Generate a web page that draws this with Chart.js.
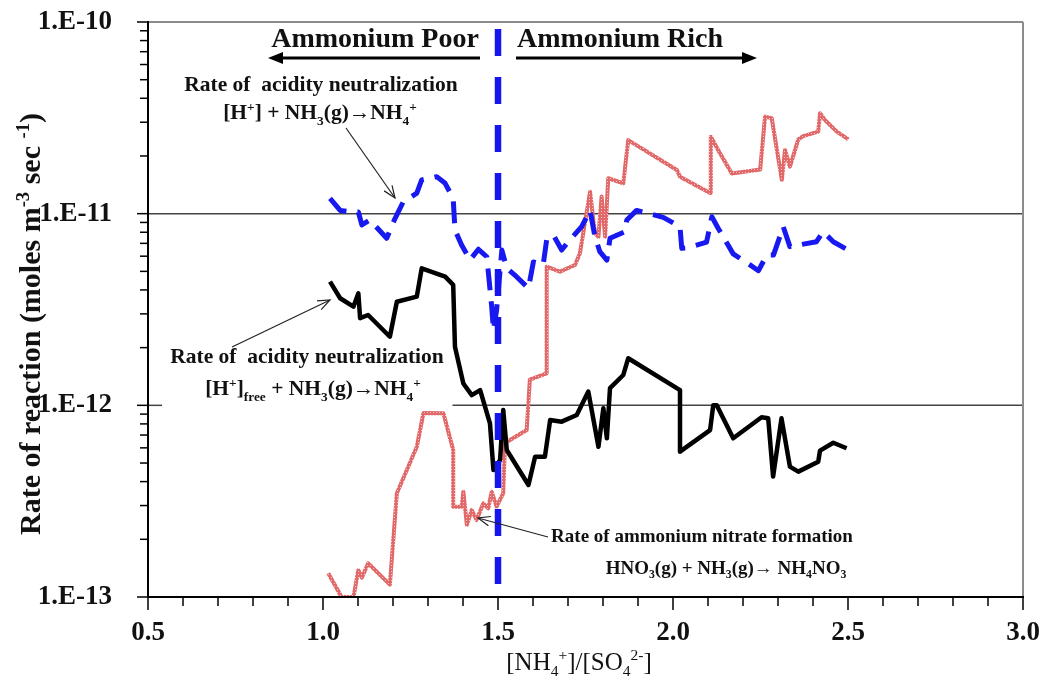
<!DOCTYPE html>
<html>
<head>
<meta charset="utf-8">
<script src="https://cdn.jsdelivr.net/npm/chart.js@4.4.1/dist/chart.umd.min.js"></script>
<style>
  body { margin: 0; background: #fff; }
  #wrap { position: relative; width: 1041px; height: 690px; }
  canvas { position: absolute; left: 0; top: 0; }
  .t { position: absolute; font-family: "Liberation Serif", serif; font-weight: bold; white-space: nowrap;
       transform: translate(-50%, -50%); color: #111; line-height: 1; }
  .t sup, .t sub { font-size: 62%; line-height: 0; }
</style>
</head>
<body>
<div id="wrap">
  <canvas id="myChart" width="1041" height="690"></canvas>
  <div class="t" style="left:375px;top:38px;font-size:28px">Ammonium Poor</div>
  <div class="t" style="left:620px;top:38px;font-size:28px">Ammonium Rich</div>
  <div class="t" style="left:321px;top:85px;font-size:21.5px">Rate of &nbsp;acidity neutralization</div>
  <div class="t" style="left:320px;top:113px;font-size:21.5px">[H<sup>+</sup>] + NH<sub>3</sub>(g)→NH<sub>4</sub><sup>+</sup></div>
  <div class="t" style="left:307px;top:357px;font-size:21.5px">Rate of &nbsp;acidity neutralization</div>
  <div class="t" style="left:313px;top:389px;font-size:21.5px">[H<sup>+</sup>]<sub>free</sub> + NH<sub>3</sub>(g)→NH<sub>4</sub><sup>+</sup></div>
  <div class="t" style="left:702px;top:535px;font-size:19px">Rate of ammonium nitrate formation</div>
  <div class="t" style="left:726px;top:567px;font-size:19px">HNO<sub>3</sub>(g) + NH<sub>3</sub>(g)→ NH<sub>4</sub>NO<sub>3</sub></div>
  <div class="t" style="left:30px;top:324px;font-size:30px;transform:translate(-50%,-50%) rotate(-90deg)">Rate of reaction (moles m<sup>-3</sup> sec <sup>-1</sup>)</div>
  <div class="t" style="left:579px;top:661px;font-size:25px;font-weight:normal">[NH<sub>4</sub><sup>+</sup>]/[SO<sub>4</sub><sup>2-</sup>]</div>
</div>
<script>
// acidity neutralization, [H+]free (black)
const blackX = [1.020, 1.049, 1.087, 1.101, 1.106, 1.129, 1.191, 1.211, 1.268, 1.282, 1.349, 1.372, 1.377, 1.401, 1.425,
  1.449, 1.477, 1.487, 1.506, 1.515, 1.525, 1.587, 1.606, 1.634, 1.649, 1.682, 1.725, 1.758, 1.787, 1.801, 1.811, 1.820,
  1.858, 1.872, 2.020, 2.020, 2.106, 2.115, 2.125, 2.172, 2.253, 2.272, 2.286, 2.310, 2.334, 2.358, 2.415, 2.420, 2.458, 2.496];
const blackY = [4.42e-12, 3.62e-12, 3.27e-12, 3.84e-12, 2.85e-12, 2.96e-12, 2.28e-12, 3.47e-12, 3.69e-12, 5.19e-12,
  4.69e-12, 4.25e-12, 2.02e-12, 1.30e-12, 1.13e-12, 1.20e-12, 8.05e-13, 4.60e-13, 5.19e-13, 9.46e-13, 5.85e-13, 3.84e-13,
  5.39e-13, 5.39e-13, 8.38e-13, 8.22e-13, 8.91e-13, 1.18e-12, 6.08e-13, 9.65e-13, 6.73e-13, 1.23e-12, 1.44e-12, 1.76e-12,
  1.20e-12, 5.73e-13, 7.43e-13, 1.00e-12, 1.00e-12, 6.73e-13, 8.67e-13, 8.56e-13, 4.25e-13, 8.56e-13, 4.79e-13, 4.51e-13,
  5.08e-13, 5.80e-13, 6.38e-13, 5.97e-13];

// ammonium nitrate formation (red)
const redX = [1.015, 1.053, 1.087, 1.101, 1.111, 1.129, 1.191, 1.211, 1.268, 1.287, 1.344, 1.372, 1.372, 1.396, 1.401,
  1.411, 1.425, 1.439, 1.458, 1.472, 1.482, 1.496, 1.515, 1.520, 1.582, 1.591, 1.639, 1.639, 1.677, 1.720, 1.734, 1.763,
  1.777, 1.787, 1.796, 1.806, 1.815, 1.858, 1.872, 2.011, 2.020, 2.106, 2.108, 2.129, 2.168, 2.249, 2.263, 2.282, 2.311,
  2.320, 2.334, 2.358, 2.372, 2.415, 2.420, 2.434, 2.468, 2.501];
const redY = [1.33e-13, 1.0e-13, 1.0e-13, 1.38e-13, 1.26e-13, 1.50e-13, 1.16e-13, 3.48e-13, 6.08e-13, 9.12e-13, 9.10e-13,
  5.85e-13, 2.96e-13, 2.96e-13, 3.54e-13, 2.38e-13, 2.84e-13, 2.52e-13, 3.08e-13, 2.90e-13, 3.54e-13, 2.96e-13, 3.48e-13,
  6.36e-13, 7.43e-13, 1.36e-12, 1.47e-12, 5.29e-12, 4.98e-12, 5.40e-12, 6.21e-12, 1.30e-11, 7.90e-12, 7.58e-12, 1.23e-11,
  7.58e-12, 1.53e-11, 1.44e-11, 2.42e-11, 1.69e-11, 1.56e-11, 1.28e-11, 2.52e-11, 2.15e-11, 1.62e-11, 1.70e-11, 3.21e-11,
  3.15e-11, 1.50e-11, 2.15e-11, 1.76e-11, 2.44e-11, 2.54e-11, 2.68e-11, 3.34e-11, 3.08e-11, 2.68e-11, 2.44e-11];

// acidity neutralization, [H+] (blue dashed)
const blueX = [1.020, 1.049, 1.087, 1.101, 1.111, 1.134, 1.182, 1.206, 1.229, 1.268, 1.282, 1.325, 1.349, 1.372, 1.377,
  1.396, 1.420, 1.444, 1.468, 1.482, 1.487, 1.496, 1.511, 1.525, 1.553, 1.587, 1.601, 1.629, 1.639, 1.658, 1.682, 1.701,
  1.739, 1.763, 1.777, 1.791, 1.811, 1.820, 1.863, 1.868, 1.896, 1.972, 2.020, 2.025, 2.039, 2.096, 2.111, 2.129, 2.172,
  2.220, 2.244, 2.268, 2.287, 2.315, 2.334, 2.410, 2.429, 2.458, 2.496];
const blueY = [1.20e-11, 1.04e-11, 1.02e-11, 1.02e-11, 8.73e-12, 9.27e-12, 7.44e-12, 9.46e-12, 1.15e-11, 1.28e-11,
  1.50e-11, 1.56e-11, 1.44e-11, 1.20e-11, 8.22e-12, 6.87e-12, 5.73e-12, 6.52e-12, 5.96e-12, 3.27e-12, 2.47e-12, 3.14e-12,
  6.46e-12, 5.19e-12, 4.69e-12, 4.08e-12, 5.60e-12, 5.40e-12, 7.29e-12, 7.74e-12, 6.46e-12, 7.14e-12, 8.55e-12, 1.04e-11,
  7.58e-12, 6.33e-12, 5.73e-12, 7.44e-12, 8.05e-12, 9.27e-12, 1.04e-11, 9.57e-12, 8.55e-12, 6.59e-12, 6.62e-12, 7.11e-12,
  9.64e-12, 8.39e-12, 6.17e-12, 5.40e-12, 5.04e-12, 6.08e-12, 6.08e-12, 8.55e-12, 6.73e-12, 7.14e-12, 8.05e-12, 7.14e-12,
  6.52e-12];

// poor / rich boundary
const dividerX = [1.5, 1.5];
const dividerY = [1e-10, 1e-13];

const xTicks = [0.5, 1.0, 1.5, 2.0, 2.5, 3.0];

function pairs(xs, ys) {
  return xs.map((v, i) => ({ x: v, y: ys[i] }));
}

// speckled light red stroke like the original
function speckle() {
  const c = document.createElement("canvas");
  c.width = 3; c.height = 3;
  const g = c.getContext("2d");
  g.fillStyle = "rgb(225,105,105)";
  g.fillRect(0, 0, 3, 3);
  g.fillStyle = "rgb(248,200,200)";
  g.fillRect(1, 1, 1, 1);
  return g.createPattern(c, "repeat");
}

function line(ctx, x1, y1, x2, y2) {
  ctx.beginPath();
  ctx.moveTo(x1, y1);
  ctx.lineTo(x2, y2);
  ctx.stroke();
}

function thinArrow(ctx, x1, y1, x2, y2) {
  ctx.strokeStyle = "#222";
  ctx.lineWidth = 1.2;
  line(ctx, x1, y1, x2, y2);
  const a = Math.atan2(y2 - y1, x2 - x1);
  ctx.beginPath();
  ctx.moveTo(x2 - 13 * Math.cos(a - 0.38), y2 - 13 * Math.sin(a - 0.38));
  ctx.lineTo(x2, y2);
  ctx.lineTo(x2 - 13 * Math.cos(a + 0.38), y2 - 13 * Math.sin(a + 0.38));
  ctx.stroke();
}

function boldArrow(ctx, x1, x2, y) {
  const dir = Math.sign(x2 - x1);
  ctx.strokeStyle = "#000";
  ctx.fillStyle = "#000";
  ctx.lineWidth = 3;
  line(ctx, x1, y, x2 - dir * 10, y);
  ctx.beginPath();
  ctx.moveTo(x2, y);
  ctx.lineTo(x2 - dir * 15, y - 6);
  ctx.lineTo(x2 - dir * 15, y + 6);
  ctx.closePath();
  ctx.fill();
}

const decoration = {
  id: "decoration",
  beforeDatasetsDraw(chart) {
    const { ctx, chartArea: a, scales: { x, y } } = chart;
    ctx.save();
    ctx.strokeStyle = "#444";
    ctx.lineWidth = 1.5;
    const g1 = y.getPixelForValue(1e-11);
    const g2 = y.getPixelForValue(1e-12);
    line(ctx, a.left, g1, a.right, g1);
    line(ctx, a.left, g2, a.left + 14, g2);
    line(ctx, x.getPixelForValue(1.37), g2, a.right, g2);
    ctx.restore();
  },
  afterDraw(chart) {
    const { ctx, chartArea: a, scales: { x, y } } = chart;
    ctx.save();
    // frame
    ctx.lineWidth = 2;
    ctx.strokeStyle = "#8c8c8c";
    line(ctx, a.left, a.top, a.right, a.top);
    line(ctx, a.right, a.top, a.right, a.bottom);
    ctx.strokeStyle = "#000";
    line(ctx, a.left, a.top - 1, a.left, a.bottom + 1);
    line(ctx, a.left - 1, a.bottom, a.right + 1, a.bottom);
    // y ticks (log minors)
    ctx.lineWidth = 1.5;
    for (let d = -13; d <= -10; d++) {
      for (let m = 1; m <= 9; m++) {
        if (d === -10 && m > 1) break;
        const py = y.getPixelForValue(m * Math.pow(10, d));
        line(ctx, a.left, py, a.left - (m === 1 ? 11 : 8), py);
      }
    }
    // x ticks every 0.1
    for (let i = 5; i <= 30; i++) {
      const px = x.getPixelForValue(i / 10);
      line(ctx, px, a.bottom, px, a.bottom + (i % 5 === 0 ? 13 : 9));
    }
    // annotations
    boldArrow(ctx, 480, 268, 58);
    boldArrow(ctx, 516, 757, 58);
    thinArrow(ctx, 346, 128, 395, 198);
    thinArrow(ctx, 232, 347, 330, 300);
    thinArrow(ctx, 548, 537, 478, 518);
    ctx.restore();
  }
};

const ctx = document.getElementById("myChart");

new Chart(ctx, {
  type: "line",
  data: {
    datasets: [
      {
        label: "boundary",
        data: pairs(dividerX, dividerY),
        borderColor: "#1515ee",
        borderWidth: 6.5,
        borderDash: [27, 21],
        borderDashOffset: 41,
        borderCapStyle: "butt",
        pointRadius: 0
      },
      {
        label: "[H+] + NH3(g) -> NH4+",
        data: pairs(blueX, blueY),
        borderColor: "#1818f0",
        borderWidth: 5,
        borderDash: [22, 11],
        pointRadius: 0
      },
      {
        label: "[H+]free + NH3(g) -> NH4+",
        data: pairs(blackX, blackY),
        borderColor: "#000",
        borderWidth: 4.5,
        pointRadius: 0
      },
      {
        label: "HNO3(g) + NH3(g) -> NH4NO3",
        data: pairs(redX, redY),
        borderColor: speckle(),
        borderWidth: 4,
        pointRadius: 0
      }
    ]
  },
  options: {
    responsive: false,
    animation: false,
    devicePixelRatio: 1,
    layout: { padding: { left: 0, top: 22, right: 18, bottom: 0 } },
    plugins: { legend: { display: false }, tooltip: { enabled: false } },
    elements: { line: { tension: 0, borderJoinStyle: "round" } },
    scales: {
      x: {
        type: "linear",
        min: 0.5,
        max: 3.0,
        grid: { display: false },
        border: { display: false },
        afterBuildTicks: (s) => { s.ticks = xTicks.map((v) => ({ value: v })); },
        afterFit: (s) => {
          s.height = 93;
          s.paddingLeft = 0;
          s.paddingRight = 0;
        },
        ticks: {
          autoSkip: false,
          padding: 12,
          color: "#111",
          font: { family: "Liberation Serif", weight: "bold", size: 27 },
          callback: (v) => Number(v).toFixed(1)
        }
      },
      y: {
        type: "logarithmic",
        min: 1e-13,
        max: 1e-10,
        grid: { display: false },
        border: { display: false },
        afterFit: (s) => {
          s.width = 148;
          s.paddingTop = 0;
          s.paddingBottom = 0;
        },
        ticks: {
          autoSkip: false,
          padding: 28,
          color: "#111",
          font: { family: "Liberation Serif", weight: "bold", size: 27 },
          callback: (v) => {
            const e = Math.log10(v);
            return Math.abs(e - Math.round(e)) < 1e-6 ? "1.E" + Math.round(e) : "";
          }
        }
      }
    }
  },
  plugins: [decoration]
});
</script>
</body>
</html>
